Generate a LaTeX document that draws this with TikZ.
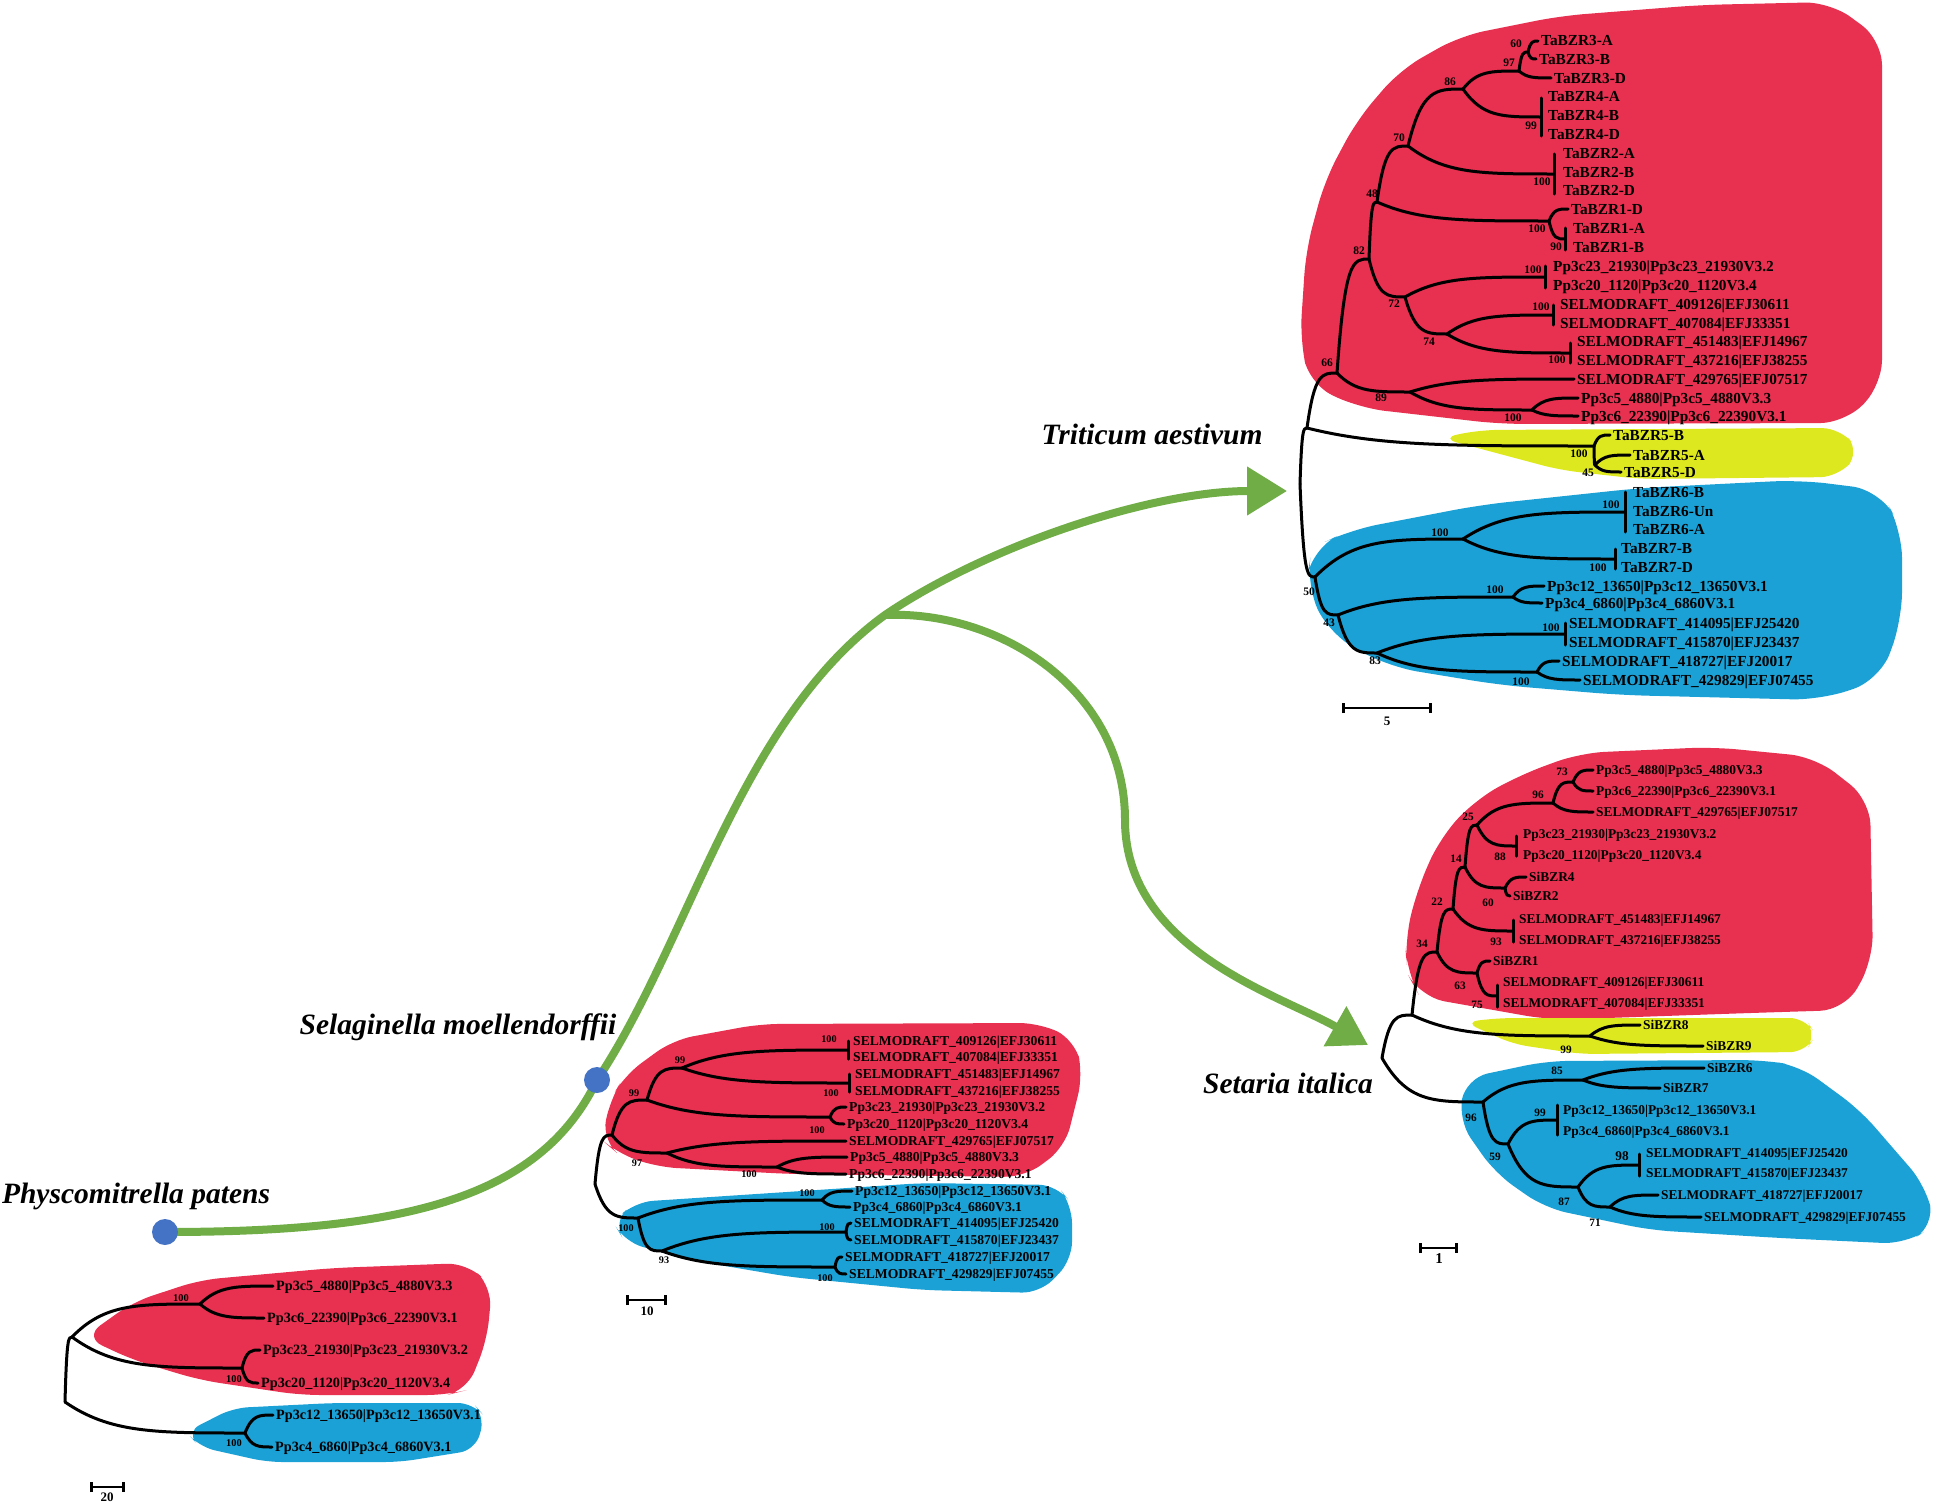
\documentclass[tikz,border=0pt]{standalone}
\usepackage{fontspec}
\setmainfont{Liberation Serif}
\usetikzlibrary{arrows.meta,calc}

\definecolor{cladered}{RGB}{232,48,80}
\definecolor{cladeyellow}{RGB}{222,232,30}
\definecolor{cladeblue}{RGB}{27,161,213}
\definecolor{linkgreen}{RGB}{112,173,71}
\definecolor{dotblue}{RGB}{68,114,196}

\newcommand\fs[1]{\fontsize{#1}{#1}\selectfont\bfseries}
% short hand for the Selaginella gene names
\newcommand\sm[1]{SELMODRAFT\_#1}

\begin{document}
\begin{tikzpicture}[
	x=1pt, y=-1pt,
	branch/.style={line width=3pt, line cap=round, line join=round},
	leafT/.style={anchor=west, inner sep=3pt, text height=10pt, text depth=0pt, font=\fs{15.3}},
	leafS/.style={anchor=west, inner sep=3pt, text height=8.8pt, text depth=0pt, font=\fs{13.4}},
	leafG/.style={anchor=west, inner sep=3pt, text height=9pt, text depth=0pt, font=\fs{13.6}},
	leafP/.style={anchor=west, inner sep=3pt, text height=9.4pt, text depth=0pt, font=\fs{14.2}},
	boot/.style={inner sep=0pt, text height=0.68em, text depth=0pt},
	species/.style={inner sep=0pt, text depth=0pt, font=\fontsize{29.5}{30}\selectfont\bfseries\itshape},
	scalebar/.style={line width=2.6pt, {Bar[width=10pt]}-{Bar[width=10pt]}},
	link/.style={draw=linkgreen, line width=8pt},
	dot/.style={circle, fill=dotblue, minimum size=26pt, inner sep=0pt}
]
\useasboundingbox (0,0) rectangle (1941,1504);

% --- Clade backgrounds ---
\fill[cladered, rounded corners=25pt] (1300,340) -- (1306,250) -- (1325,180) -- (1357,120) -- (1400,70) -- (1460,36) -- (1560,16) -- (1700,5) -- (1830,2) -- (1882,40) -- (1882,385) -- (1845,423) -- (1500,424) -- (1360,408) -- (1310,385) -- cycle;
\fill[cladeyellow, rounded corners=18pt] (1440,438) -- (1480,430) -- (1840,428) -- (1860,452) -- (1838,477) -- (1640,479) -- (1560,470) -- cycle;
\fill[cladeblue, rounded corners=28pt] (1306,585) -- (1312,548) -- (1350,530) -- (1480,505) -- (1640,488) -- (1800,480) -- (1880,490) -- (1902,530) -- (1902,620) -- (1880,680) -- (1820,700) -- (1620,695) -- (1500,685) -- (1390,667) -- (1330,635) -- cycle;

\fill[cladered, rounded corners=25pt] (1407,973) -- (1405,940) -- (1417,890) -- (1440,838) -- (1475,800) -- (1520,775) -- (1580,753) -- (1713,747) -- (1815,757) -- (1870,800) -- (1873,960) -- (1845,1010) -- (1750,1013) -- (1550,1020) -- (1420,997) -- cycle;
\fill[cladeyellow, rounded corners=15pt] (1464,1022) -- (1500,1018) -- (1805,1018) -- (1816,1035) -- (1805,1052) -- (1580,1054) -- (1513,1044) -- cycle;
\fill[cladeblue, rounded corners=22pt] (1458,1120) -- (1466,1078) -- (1547,1061) -- (1763,1060) -- (1800,1066) -- (1860,1110) -- (1925,1185) -- (1935,1225) -- (1905,1244) -- (1780,1238) -- (1650,1230) -- (1545,1208) -- (1495,1173) -- cycle;

\fill[cladered, rounded corners=20pt] (602,1140) -- (610,1100) -- (625,1075) -- (673,1040) -- (760,1024) -- (1040,1023) -- (1075,1040) -- (1083,1075) -- (1065,1147) -- (1025,1177) -- (790,1174) -- (657,1167) -- (617,1153) -- cycle;
\fill[cladeblue, rounded corners=18pt] (613,1222) -- (635,1202) -- (923,1183) -- (1057,1185) -- (1072,1205) -- (1072,1260) -- (1040,1293) -- (923,1290) -- (790,1277) -- (690,1260) -- (625,1242) -- cycle;

\fill[cladered, rounded corners=20pt] (84,1337) -- (133,1302) -- (200,1280) -- (333,1268) -- (467,1263) -- (492,1287) -- (487,1340) -- (467,1390) -- (447,1395) -- (300,1395) -- (200,1380) -- (133,1360) -- cycle;
\fill[cladeblue, rounded corners=15pt] (186,1432) -- (233,1408) -- (333,1403) -- (473,1403) -- (485,1417) -- (475,1450) -- (400,1462) -- (267,1462) -- (200,1447) -- cycle;

% --- Evolution links ---
\coordinate (physco) at (165,1232);
\coordinate (selag) at (597,1080);
\coordinate (fork) at (885,615);
\coordinate (tritip) at (1287,491);
\coordinate (settip) at (1368,1045);

\draw[link] (physco) .. controls (400,1232) and (540,1200) .. (selag);
\draw[link, -{Triangle[length=40pt,width=47pt]}] (selag) .. controls (690,940) and (740,720) .. (fork) .. controls (985,547) and (1150,491) .. (tritip);
\draw[link, -{Triangle[length=38pt,width=44pt]}] (fork) .. controls (1000,610) and (1125,690) .. (1125,820) .. controls (1125,950) and (1280,995) .. (settip);

\node[dot] (physcodot) at (physco) {};
\node[dot] (selagdot) at (selag) {};

% --- Species names ---
\node[species] (tri) at (1152,434) {Triticum aestivum};
\node[species] (set) at (1288,1083) {Setaria italica};
\node[species] (sel) at (458,1024) {Selaginella moellendorffii};
\node[species] (phy) at (136,1193) {Physcomitrella patens};

% --- Triticum aestivum tree ---
\foreach \n/\x/\y/\t in {t1/1541/41/TaBZR3-A, t2/1539/59/TaBZR3-B, t3/1554/78/TaBZR3-D,
	t4/1548/97/TaBZR4-A, t5/1548/116/TaBZR4-B, t6/1548/134/TaBZR4-D,
	t7/1563/153/TaBZR2-A, t8/1563/172/TaBZR2-B, t9/1563/190/TaBZR2-D,
	t10/1571/209/TaBZR1-D, t11/1573/228/TaBZR1-A, t12/1573/247/TaBZR1-B,
	t13/1553/266/Pp3c23\_21930|Pp3c23\_21930V3.2, t14/1553/285/Pp3c20\_1120|Pp3c20\_1120V3.4,
	t15/1560/304/\sm{409126|EFJ30611}, t16/1560/323/\sm{407084|EFJ33351},
	t17/1577/341/\sm{451483|EFJ14967}, t18/1577/360/\sm{437216|EFJ38255},
	t19/1577/379/\sm{429765|EFJ07517}, t20/1581/398/Pp3c5\_4880|Pp3c5\_4880V3.3,
	t21/1581/416/Pp3c6\_22390|Pp3c6\_22390V3.1,
	t22/1613/435/TaBZR5-B, t23/1633/455/TaBZR5-A, t24/1624/472/TaBZR5-D,
	t25/1633/492/TaBZR6-B, t26/1633/511/TaBZR6-Un, t27/1633/529/TaBZR6-A,
	t28/1621/548/TaBZR7-B, t29/1621/567/TaBZR7-D,
	t30/1547/586/Pp3c12\_13650|Pp3c12\_13650V3.1, t31/1545/603/Pp3c4\_6860|Pp3c4\_6860V3.1,
	t32/1569/623/\sm{414095|EFJ25420}, t33/1569/642/\sm{415870|EFJ23437},
	t34/1562/661/\sm{418727|EFJ20017}, t35/1583/680/\sm{429829|EFJ07455}}
	\node[leafT] (\n) at (\x-3,\y) {\t};

\coordinate (rT) at (1300,484);
\coordinate (uT) at (1307,428);
\coordinate (n66) at (1337,373);
\coordinate (n82) at (1369,259);
\coordinate (n48) at (1377,202);
\coordinate (n70) at (1408,146);
\coordinate (n86) at (1463,89);
\coordinate (n97) at (1519,71);
\coordinate (n60) at (1528,52);
\coordinate (bT4) at (1541,117);
\coordinate (bT2) at (1554,174);
\coordinate (n1T) at (1549,221);
\coordinate (bT1) at (1565,239);
\coordinate (n72) at (1405,297);
\coordinate (bT23) at (1545,277);
\coordinate (n74) at (1447,334);
\coordinate (bT409) at (1553,315);
\coordinate (bT451) at (1570,353);
\coordinate (n89) at (1410,392);
\coordinate (n100a) at (1532,410);
\coordinate (n5T) at (1594,446);
\coordinate (n45) at (1595,465);
\coordinate (n50) at (1315,577);
\coordinate (n100b) at (1463,539);
\coordinate (bT6) at (1625,512);
\coordinate (bT7) at (1615,559);
\coordinate (n43) at (1338,615);
\coordinate (n100c) at (1513,597);
\coordinate (n83) at (1377,653);
\coordinate (bT414) at (1565,634);
\coordinate (n100d) at (1537,672);

\foreach \n/\x/\y/\t in {bt1/1516/44/60, bt2/1509/63/97, bt3/1450/82/86, bt4/1531/126/99,
	bt5/1399/138/70, bt6/1542/182/100, bt7/1372/194/48, bt8/1537/229/100, bt9/1556/247/90,
	bt10/1359/251/82, bt11/1533/270/100, bt12/1394/304/72, bt13/1541/307/100, bt14/1429/342/74,
	bt15/1557/360/100, bt16/1327/363/66, bt17/1381/398/89, bt18/1513/418/100, bt19/1579/454/100,
	bt20/1588/473/45, bt21/1611/505/100, bt22/1440/533/100, bt23/1598/568/100, bt24/1495/590/100,
	bt25/1309/592/50, bt26/1329/623/43, bt27/1551/628/100, bt28/1375/661/83, bt29/1521/682/100}
	\node[boot, font=\fs{11.5}] (\n) at (\x,\y) {\t};

% --- Setaria italica tree ---
\foreach \n/\x/\y/\t in {s1/1596/770/Pp3c5\_4880|Pp3c5\_4880V3.3, s2/1596/791/Pp3c6\_22390|Pp3c6\_22390V3.1,
	s3/1596/812/\sm{429765|EFJ07517}, s4/1523/834/Pp3c23\_21930|Pp3c23\_21930V3.2,
	s5/1523/855/Pp3c20\_1120|Pp3c20\_1120V3.4, s6/1529/877/SiBZR4, s7/1513/896/SiBZR2,
	s8/1519/919/\sm{451483|EFJ14967}, s9/1519/940/\sm{437216|EFJ38255},
	s10/1493/961/SiBZR1, s11/1503/982/\sm{409126|EFJ30611},
	s12/1503/1003/\sm{407084|EFJ33351}, s13/1643/1025/SiBZR8, s14/1706/1046/SiBZR9,
	s15/1707/1068/SiBZR6, s16/1663/1088/SiBZR7,
	s17/1563/1110/Pp3c12\_13650|Pp3c12\_13650V3.1, s18/1563/1131/Pp3c4\_6860|Pp3c4\_6860V3.1,
	s19/1646/1153/\sm{414095|EFJ25420}, s20/1646/1173/\sm{415870|EFJ23437},
	s21/1661/1195/\sm{418727|EFJ20017}, s22/1704/1217/\sm{429829|EFJ07455}}
	\node[leafS] (\n) at (\x-3,\y) {\t};

\coordinate (rS) at (1382,1058);
\coordinate (uS) at (1412,1015);
\coordinate (n34) at (1437,952);
\coordinate (n22) at (1453,909);
\coordinate (n63) at (1477,973);
\coordinate (bS75) at (1497,996);
\coordinate (n14) at (1465,867);
\coordinate (bS93) at (1513,931);
\coordinate (n25) at (1477,825);
\coordinate (n60s) at (1505,888);
\coordinate (n96a) at (1553,803);
\coordinate (bS88) at (1516,846);
\coordinate (n73) at (1573,782);
\coordinate (n99s) at (1590,1036);
\coordinate (n96b) at (1483,1102);
\coordinate (n85) at (1583,1080);
\coordinate (n59) at (1508,1144);
\coordinate (bS99) at (1557,1120);
\coordinate (n87) at (1578,1187);
\coordinate (bS98) at (1639,1165);
\coordinate (n71) at (1610,1207);

\foreach \n/\x/\y/\t in {bs1/1562/772/73, bs2/1538/795/96, bs3/1468/817/25, bs4/1500/857/88,
	bs5/1456/859/14, bs6/1437/902/22, bs7/1488/903/60, bs8/1422/944/34, bs9/1496/942/93,
	bs10/1460/986/63, bs11/1477/1005/75, bs12/1566/1050/99, bs13/1557/1071/85, bs14/1540/1113/99,
	bs15/1471/1118/96, bs16/1495/1157/59, bs17/1564/1202/87, bs18/1595/1223/71}
	\node[boot, font=\fs{11.3}] (\n) at (\x,\y) {\t};
\node[boot, font=\fs{13.3}] (bs19) at (1622,1157) {98};

% --- Selaginella moellendorffii tree ---
\foreach \n/\x/\y/\t in {g1/853/1041/\sm{409126|EFJ30611}, g2/853/1057/\sm{407084|EFJ33351},
	g3/855/1074/\sm{451483|EFJ14967}, g4/855/1091/\sm{437216|EFJ38255},
	g5/849/1107/Pp3c23\_21930|Pp3c23\_21930V3.2, g6/847/1124/Pp3c20\_1120|Pp3c20\_1120V3.4,
	g7/849/1141/\sm{429765|EFJ07517}, g8/850/1157/Pp3c5\_4880|Pp3c5\_4880V3.3,
	g9/849/1174/Pp3c6\_22390|Pp3c6\_22390V3.1, g10/855/1191/Pp3c12\_13650|Pp3c12\_13650V3.1,
	g11/853/1207/Pp3c4\_6860|Pp3c4\_6860V3.1, g12/854/1223/\sm{414095|EFJ25420},
	g13/854/1240/\sm{415870|EFJ23437}, g14/845/1257/\sm{418727|EFJ20017},
	g15/849/1274/\sm{429829|EFJ07455}}
	\node[leafG] (\n) at (\x-3,\y) {\t};

\coordinate (rG) at (595,1184);
\coordinate (nRG) at (612,1135);
\coordinate (n99a) at (647,1100);
\coordinate (n99b) at (682,1068);
\coordinate (bG1) at (848,1050);
\coordinate (bG2) at (849,1083);
\coordinate (n100g1) at (830,1117);
\coordinate (n97g) at (667,1153);
\coordinate (n100g2) at (777,1167);
\coordinate (nBG) at (638,1218);
\coordinate (n100g3) at (822,1200);
\coordinate (n93) at (662,1251);
\coordinate (n100g4) at (846,1232);
\coordinate (n100g5) at (835,1267);

\foreach \n/\x/\y/\t in {bg1/829/1039/100, bg2/680/1060/99, bg3/634/1093/99, bg4/831/1093/100,
	bg5/817/1130/100, bg6/637/1163/97, bg7/749/1174/100, bg8/807/1193/100, bg9/626/1228/100,
	bg10/827/1227/100, bg11/664/1260/93, bg12/825/1278/100}
	\node[boot, font=\fs{10.2}] (\n) at (\x,\y) {\t};

% --- Physcomitrella patens tree ---
\foreach \n/\x/\y/\t in {p1/276/1286/Pp3c5\_4880|Pp3c5\_4880V3.3, p2/267/1318/Pp3c6\_22390|Pp3c6\_22390V3.1,
	p3/263/1350/Pp3c23\_21930|Pp3c23\_21930V3.2, p4/261/1383/Pp3c20\_1120|Pp3c20\_1120V3.4,
	p5/276/1415/Pp3c12\_13650|Pp3c12\_13650V3.1, p6/275/1447/Pp3c4\_6860|Pp3c4\_6860V3.1}
	\node[leafP] (\n) at (\x-3,\y) {\t};

\coordinate (rP) at (65,1402);
\coordinate (nRP) at (72,1337);
\coordinate (n100p1) at (200,1304);
\coordinate (n100p2) at (242,1368);
\coordinate (n100p3) at (245,1433);

\foreach \n/\x/\y/\t in {bp1/181/1298/100, bp2/234/1379/100, bp3/234/1443/100}
	\node[boot, font=\fs{10.4}] (\n) at (\x,\y) {\t};

% --- Branches ---
\foreach \a/\b in {rT/uT, rT/n50, uT/n66, uT/n5T, n66/n82, n66/n89, n82/n48, n82/n72,
	n48/n70, n48/n1T, n70/n86, n70/bT2, n86/n97, n86/bT4, n97/n60, n97/t3.west,
	n60/t1.west, n60/t2.west, n1T/t10.west, n1T/bT1, n72/bT23, n72/n74, n74/bT409, n74/bT451,
	n89/t19.west, n89/n100a, n100a/t20.west, n100a/t21.west, n5T/t22.west, n5T/n45,
	n45/t23.west, n45/t24.west, n50/n100b, n50/n43, n100b/bT6, n100b/bT7, n43/n100c, n43/n83,
	n100c/t30.west, n100c/t31.west, n83/bT414, n83/n100d, n100d/t34.west, n100d/t35.west,
	rS/uS, rS/n96b, uS/n34, uS/n99s, n34/n22, n34/n63, n63/s10.west, n63/bS75, n22/n14, n22/bS93,
	n14/n25, n14/n60s, n60s/s6.west, n60s/s7.west, n25/n96a, n25/bS88, n96a/n73, n96a/s3.west,
	n73/s1.west, n73/s2.west, n99s/s13.west, n99s/s14.west, n96b/n85, n96b/n59,
	n85/s15.west, n85/s16.west, n59/bS99, n59/n87, n87/bS98, n87/n71, n71/s21.west, n71/s22.west,
	rG/nRG, rG/nBG, nRG/n99a, nRG/n97g, n99a/n99b, n99a/n100g1, n99b/bG1, n99b/bG2,
	n100g1/g5.west, n100g1/g6.west, n97g/g7.west, n97g/n100g2, n100g2/g8.west, n100g2/g9.west,
	nBG/n100g3, nBG/n93, n100g3/g10.west, n100g3/g11.west, n93/n100g4, n93/n100g5,
	n100g4/g12.west, n100g4/g13.west, n100g5/g14.west, n100g5/g15.west,
	rP/nRP, rP/n100p3, nRP/n100p1, nRP/n100p2, n100p1/p1.west, n100p1/p2.west,
	n100p2/p3.west, n100p2/p4.west, n100p3/p5.west, n100p3/p6.west}
	\draw[branch] (\a) let \p1=(\a), \p2=(\b) in
		.. controls ({0.75*\x1+0.25*\x2},\y2) and ({0.5*\x1+0.5*\x2},\y2) .. (\b);

% zero-length polytomies
\foreach \b/\h in {bT4/19, bT2/20, bT1/11, bT23/11, bT409/10, bT451/10, bT6/20, bT7/10, bT414/11,
	bS75/11, bS93/11, bS88/10, bS99/15, bS98/11, bG1/9, bG2/9}
	\draw[branch] ([yshift=\h pt]\b) -- ([yshift=-\h pt]\b);

% --- Scale bars ---
\coordinate (sbT1) at (1342,708); \coordinate (sbT2) at (1432,708);
\coordinate (sbS1) at (1419,1248); \coordinate (sbS2) at (1458,1248);
\coordinate (sbG1) at (626,1300); \coordinate (sbG2) at (667,1300);
\coordinate (sbP1) at (90,1487); \coordinate (sbP2) at (125,1487);
\draw[scalebar] (sbT1) -- (sbT2);
\draw[scalebar] (sbS1) -- (sbS2);
\draw[scalebar] (sbG1) -- (sbG2);
\draw[scalebar] (sbP1) -- (sbP2);
\node[boot, font=\fs{13}] (sbT) at (1387,722) {5};
\node[boot, font=\fs{15}] (sbS) at (1439,1260) {1};
\node[boot, font=\fs{13}] (sbG) at (647,1312) {10};
\node[boot, font=\fs{13}] (sbP) at (107,1498) {20};

\end{tikzpicture}
\end{document}
